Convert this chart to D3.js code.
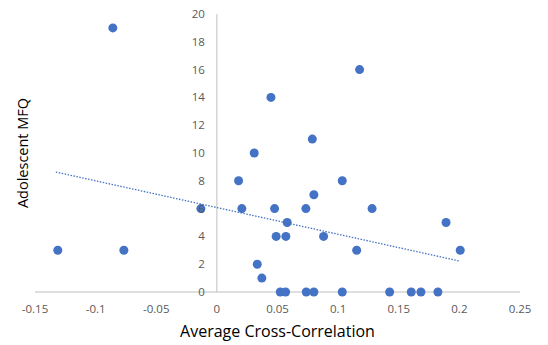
<!DOCTYPE html>
<html>
<head>
<meta charset="utf-8">
<script src="https://cdn.jsdelivr.net/npm/d3@7"></script>
<style>
  body { margin: 0; background: #fff; }
  svg { display: block; font-family: "Open Sans", sans-serif; }
</style>
</head>
<body>
<svg width="548" height="345"></svg>
<script>
// cross-correlation (x) vs adolescent MFQ (y)
var crossCorr = [-0.1312, -0.0858, -0.0767, -0.0132, 0.0179, 0.0206, 0.0308, 0.0333, 0.0371, 0.0446,
	0.0476, 0.0489, 0.0523, 0.0567, 0.0569, 0.0580, 0.0734, 0.0737, 0.0787, 0.0800,
	0.0800, 0.0880, 0.1034, 0.1034, 0.1153, 0.1177, 0.1280, 0.1425, 0.1603, 0.1683,
	0.1823, 0.1890, 0.2007];
var mfq = [3, 19, 3, 6, 8, 6, 10, 2, 1, 14,
	6, 4, 0, 0, 4, 5, 6, 0, 11, 7,
	0, 4, 8, 0, 3, 16, 6, 0, 0, 0,
	0, 5, 3];
// linear trendline end points
var trendX = [-0.1328, 0.2000];
var trendY = [8.63, 2.23];
var xTicks = [-0.15, -0.1, -0.05, 0, 0.05, 0.1, 0.15, 0.2, 0.25];
var yTicks = [0, 2, 4, 6, 8, 10, 12, 14, 16, 18, 20];

var svg = d3.select("svg"),
	margin = {top: 14, right: 28, bottom: 53, left: 35},
	width = 548 - margin.left - margin.right,
	height = 345 - margin.top - margin.bottom,
	g = svg.append("g").attr("transform", "translate(" + margin.left + "," + margin.top + ")");

var x = d3.scaleLinear().domain([-0.15, 0.25]).range([0, width]);
var y = d3.scaleLinear().domain([0, 20]).range([height, 0]);

// axis lines
g.append("line")
	.attr("x1", 0).attr("x2", width)
	.attr("y1", y(0)).attr("y2", y(0))
	.attr("stroke", "#bfbfbf").attr("stroke-width", 1);
g.append("line")
	.attr("x1", x(0)).attr("x2", x(0))
	.attr("y1", y(20)).attr("y2", y(0))
	.attr("stroke", "#bfbfbf").attr("stroke-width", 1);

var data = crossCorr.map(function(d, i) { return {x: d, y: mfq[i]}; });

g.selectAll("circle.pt")
	.data(data)
	.enter().append("circle")
	.attr("class", "pt")
	.attr("cx", function(d) { return x(d.x); })
	.attr("cy", function(d) { return y(d.y); })
	.attr("r", 4.5)
	.attr("fill", "#4472c4");

var line = d3.line()
	.x(function(d) { return x(d[0]); })
	.y(function(d) { return y(d[1]); });

g.append("path")
	.datum(trendX.map(function(d, i) { return [d, trendY[i]]; }))
	.attr("fill", "none")
	.attr("stroke", "#4472c4")
	.attr("stroke-width", 1.3)
	.attr("stroke-dasharray", "1.5,1.5")
	.attr("d", line);

// tick labels (drawn after the dots, like the original)
g.selectAll("text.xt")
	.data(xTicks)
	.enter().append("text")
	.attr("class", "xt")
	.attr("x", function(d) { return x(d); })
	.attr("y", height + 21)
	.attr("text-anchor", "middle")
	.attr("font-size", 11.5)
	.attr("fill", "#595959")
	.text(function(d) { return d; });

g.selectAll("text.yt")
	.data(yTicks)
	.enter().append("text")
	.attr("class", "yt")
	.attr("x", x(0) - 12)
	.attr("y", function(d) { return y(d); })
	.attr("dy", "0.35em")
	.attr("text-anchor", "end")
	.attr("font-size", 11.5)
	.attr("fill", "#595959")
	.text(function(d) { return d; });

// axis titles
svg.append("text")
	.attr("x", margin.left + width / 2)
	.attr("y", 337)
	.attr("text-anchor", "middle")
	.attr("font-size", 16)
	.attr("fill", "#000")
	.text("Average Cross-Correlation");

svg.append("text")
	.attr("transform", "translate(28," + (margin.top + height / 2) + ") rotate(-90)")
	.attr("text-anchor", "middle")
	.attr("font-size", 14.5)
	.attr("fill", "#000")
	.text("Adolescent MFQ");
</script>
</body>
</html>
